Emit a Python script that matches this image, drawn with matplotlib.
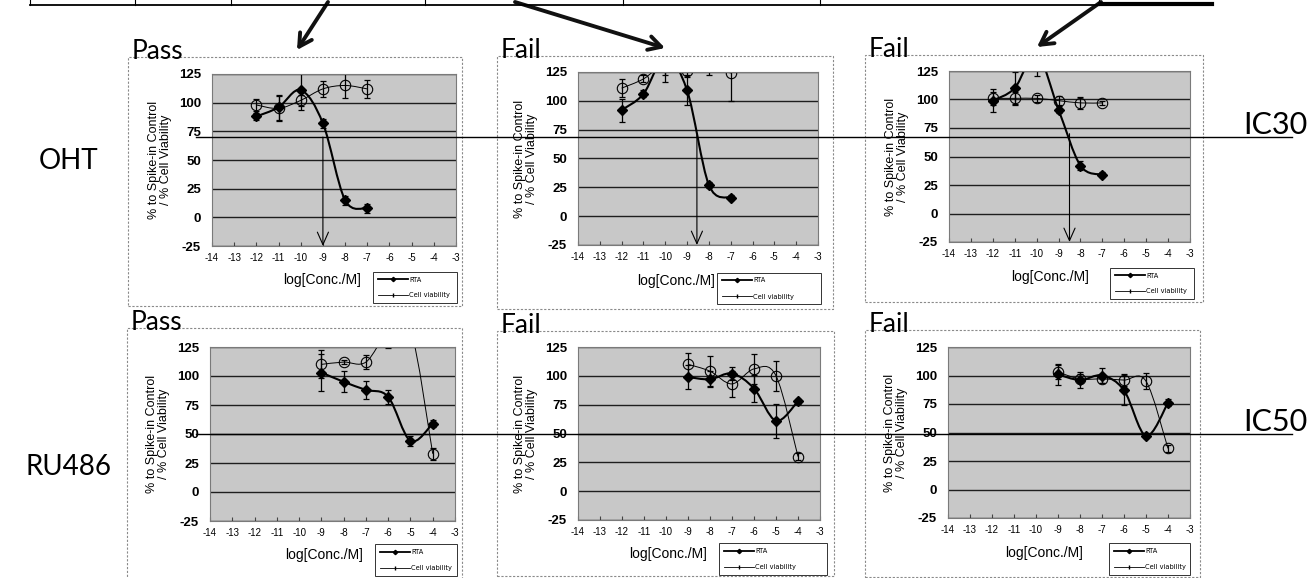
import numpy as np
import matplotlib
matplotlib.use("Agg")
import matplotlib.pyplot as plt
from matplotlib.path import Path
from matplotlib.patches import PathPatch, Rectangle, FancyArrowPatch
from matplotlib.lines import Line2D

plt.rcParams['axes.unicode_minus'] = False

W, H = 1314, 578

x_ticks = list(range(-14, -2))
y_ticks = [-25, 0, 25, 50, 75, 100, 125]

conc_oht = [-12, -11, -10, -9, -8, -7]
conc_ru486 = [-9, -8, -7, -6, -5, -4]

# OHT - pass
oht_pass_rta = [88, 96, 111, 82, 15, 8]
oht_pass_rta_err = [3, 11, 17, 4, 4, 4]
oht_pass_cv = [98, 95, 102, 112, 115, 112]
oht_pass_cv_err = [5, 11, 5, 7, 11, 8]

# OHT - fail (middle)
oht_fail1_rta = [92, 106, 138, 109, 27, 16]
oht_fail1_rta_err = [10, 3, 22, 13, 3, 2]
oht_fail1_cv = [111, 119, 132, 126, 131, 124]
oht_fail1_cv_err = [8, 3, 10, 5, 9, 24]

# OHT - fail (right)
oht_fail2_rta = [99, 110, 140, 91, 42, 34]
oht_fail2_rta_err = [10, 14, 19, 3, 4, 2]
oht_fail2_cv = [101, 101, 101, 99, 97, 97]
oht_fail2_cv_err = [6, 6, 3, 4, 5, 2]

# RU486 - pass
ru_pass_rta = [103, 95, 88, 82, 44, 59]
ru_pass_rta_err = [16, 9, 8, 6, 4, 3]
ru_pass_cv = [110, 112, 112, 138, 140, 33]
ru_pass_cv_err = [12, 2, 6, 14, 14, 5]

# RU486 - fail (middle)
ru_fail1_rta = [99, 97, 102, 89, 61, 78]
ru_fail1_rta_err = [10, 7, 6, 12, 15, 2]
ru_fail1_cv = [110, 104, 93, 106, 100, 30]
ru_fail1_cv_err = [10, 13, 11, 13, 13, 3]

# RU486 - fail (right)
ru_fail2_rta = [101, 96, 100, 87, 47, 76]
ru_fail2_rta_err = [9, 7, 7, 13, 2, 3]
ru_fail2_cv = [103, 97, 97, 96, 95, 36]
ru_fail2_cv_err = [6, 4, 4, 5, 7, 3]

verdicts = ["Pass", "Fail", "Fail", "Pass", "Fail", "Fail"]
row_labels = ["OHT", "RU486"]
ic_labels = ["IC30", "IC50"]
ic_values = [70, 50]
ic30_cross = [-9.0, -8.55, -8.5]


def fx(x):
    return x / W


def fy(y):
    return 1 - y / H


def smooth_path(xs, ys, t=1 / 6):
    # excel-style smoothed line as cubic bezier through the points
    pts = np.column_stack([xs, ys]).astype(float)
    n = len(pts)
    verts = [pts[0]]
    codes = [Path.MOVETO]
    for i in range(n - 1):
        p0 = pts[max(i - 1, 0)]
        p1 = pts[i]
        p2 = pts[i + 1]
        p3 = pts[min(i + 2, n - 1)]
        verts += [p1 + (p2 - p0) * t, p2 - (p3 - p1) * t, p2]
        codes += [Path.CURVE4] * 3
    return Path(verts, codes)


fig = plt.figure(figsize=(W / 100, H / 100), dpi=100)


def draw_panel(box, plot, verdict, conc, rta, rta_err, cv, cv_err, legend_box, xlab_pos):
    l, t, r, b = box
    fig.add_artist(Rectangle((fx(l), fy(b)), (r - l) / W, (b - t) / H,
                             transform=fig.transFigure, fill=False,
                             ec='#8a8a8a', lw=0.8, ls=(0, (2, 1.5))))
    fig.text(fx(l + 4), fy(t + 2), verdict, fontsize=19, family='Lato',
             va='baseline', ha='left')

    pl, pt, pr, pb = plot
    ax = fig.add_axes([fx(pl), fy(pb), (pr - pl) / W, (pb - pt) / H])
    ax.set_facecolor('#c8c8c8')
    ax.set_xlim(-14, -3)
    ax.set_ylim(-25, 125)
    ax.set_xticks(x_ticks)
    ax.set_yticks(y_ticks)
    ax.grid(axis='y', color='#1e1e1e', lw=1.0)
    ax.set_axisbelow(True)
    for s in ax.spines.values():
        s.set_color('#7a7a7a')
        s.set_linewidth(0.8)
    ax.tick_params(axis='y', length=0, pad=8, labelsize=9.5)
    ax.tick_params(axis='x', direction='in', length=3, pad=5, labelsize=7,
                   color='#444444')
    for lab in ax.get_yticklabels():
        lab.set_family('Liberation Sans')
        lab.set_fontweight('bold')
    for lab in ax.get_xticklabels():
        lab.set_family('Liberation Sans')
    ax.set_ylabel("% to Spike-in Control\n/ % Cell Viability", fontsize=9,
                  family='Liberation Sans', linespacing=0.95, labelpad=5)

    ax.add_patch(PathPatch(smooth_path(conc, cv), fc='none', ec='k', lw=0.7))
    ax.add_patch(PathPatch(smooth_path(conc, rta), fc='none', ec='k', lw=1.5))
    ax.errorbar(conc, cv, yerr=cv_err, fmt='none', ecolor='k', elinewidth=0.9,
                capsize=2.5, capthick=0.9)
    ax.errorbar(conc, rta, yerr=rta_err, fmt='none', ecolor='k', elinewidth=0.9,
                capsize=2.5, capthick=0.9)
    ax.plot(conc, rta, ls='none', marker='D', ms=5, mfc='k', mec='k')
    ax.plot(conc, cv, ls='none', marker='o', ms=7.5, mfc='none', mec='k', mew=0.8)

    fig.text(fx(xlab_pos[0]), fy(xlab_pos[1]), "log[Conc./M]", fontsize=10,
             family='Liberation Sans', ha='center', va='center')

    handles = [Line2D([], [], color='k', lw=1.3, marker='D', ms=2.2),
               Line2D([], [], color='k', lw=0.6, marker='|', ms=2.5)]
    ll, lt, lr, lb = legend_box
    leg = ax.legend(handles, ["RTA", "Cell viability"], loc='center',
                    bbox_to_anchor=(fx(ll), fy(lb), (lr - ll) / W, (lb - lt) / H),
                    bbox_transform=fig.transFigure, mode='expand',
                    fontsize=4.8, frameon=True, fancybox=False,
                    edgecolor='k', borderpad=0.7, handlelength=4.5,
                    labelspacing=1.5, handletextpad=0.2)
    leg.get_frame().set_linewidth(0.7)
    return ax


panels = [
    ((128, 57, 462, 306), (212, 74, 456, 246), conc_oht,
     oht_pass_rta, oht_pass_rta_err, oht_pass_cv, oht_pass_cv_err,
     (370, 272, 460, 303), (322, 280)),
    ((497, 56, 833, 309), (578, 72, 818, 245), conc_oht,
     oht_fail1_rta, oht_fail1_rta_err, oht_fail1_cv, oht_fail1_cv_err,
     (714, 272, 824, 305), (676, 281)),
    ((865, 55, 1203, 302), (949, 71, 1190, 242), conc_oht,
     oht_fail2_rta, oht_fail2_rta_err, oht_fail2_cv, oht_fail2_cv_err,
     (1107, 268, 1197, 299), (1050, 277)),
    ((127, 328, 462, 582), (210, 347, 455, 521), conc_ru486,
     ru_pass_rta, ru_pass_rta_err, ru_pass_cv, ru_pass_cv_err,
     (372, 545, 460, 575), (324, 555)),
    ((497, 331, 834, 576), (578, 347, 820, 520), conc_ru486,
     ru_fail1_rta, ru_fail1_rta_err, ru_fail1_cv, ru_fail1_cv_err,
     (716, 544, 830, 574), (668, 554)),
    ((865, 330, 1200, 577), (948, 347, 1190, 518), conc_ru486,
     ru_fail2_rta, ru_fail2_rta_err, ru_fail2_cv, ru_fail2_cv_err,
     (1106, 544, 1193, 574), (1044, 553)),
]

axes = []
for i, p in enumerate(panels):
    box, plot, conc, rta, rta_e, cv, cv_e, lbox, xl = p
    axes.append(draw_panel(box, plot, verdicts[i], conc, rta, rta_e, cv, cv_e, lbox, xl))

# IC30 crossing markers on the OHT panels
for ax, xv in zip(axes[:3], ic30_cross):
    ax.annotate('', xy=(xv, -25), xytext=(xv, ic_values[0]),
                arrowprops=dict(arrowstyle='->,head_length=0.9,head_width=0.4',
                                lw=0.8, color='k', shrinkA=0, shrinkB=0),
                annotation_clip=False)

# IC threshold lines across the rows
for ax_row, lab, val in zip([axes[0], axes[3]], ic_labels, ic_values):
    ypix = ax_row.transData.transform((0, val))[1]
    yf = fig.transFigure.inverted().transform((0, ypix))[1]
    fig.add_artist(Line2D([fx(196), fx(1292)], [yf, yf], transform=fig.transFigure,
                          color='k', lw=1.0, zorder=10))
    fig.text(fx(1243), yf + 3 / H, lab, fontsize=22, family='Lato',
             ha='left', va='baseline')

fig.text(fx(69), fy(161), row_labels[0], fontsize=20, family='Lato',
         ha='center', va='center')
fig.text(fx(68), fy(467), row_labels[1], fontsize=20, family='Lato',
         ha='center', va='center')

# table edge at the top of the page
fig.add_artist(Line2D([fx(30), fx(1212)], [fy(5), fy(5)], transform=fig.transFigure,
                      color='k', lw=1.3))
for xd in [30, 135, 231, 425, 623, 820, 1099]:
    fig.add_artist(Line2D([fx(xd), fx(xd)], [fy(0), fy(5)], transform=fig.transFigure,
                          color='k', lw=0.8))
fig.add_artist(Line2D([fx(1100), fx(1212)], [fy(4), fy(4)], transform=fig.transFigure,
                      color='k', lw=3))

# pointer arrows from the table down to the panels
for (x0, y0), (x1, y1) in [((328, 2), (297, 50)), ((515, 2), (665, 48)), ((1101, 2), (1037, 47))]:
    fig.add_artist(FancyArrowPatch((fx(x0), fy(y0)), (fx(x1), fy(y1)),
                                   transform=fig.transFigure,
                                   arrowstyle='->,head_length=9,head_width=5',
                                   lw=2.8, color='#111111', shrinkA=0, shrinkB=0))

fig.savefig("out.png", dpi=100, facecolor='white')
